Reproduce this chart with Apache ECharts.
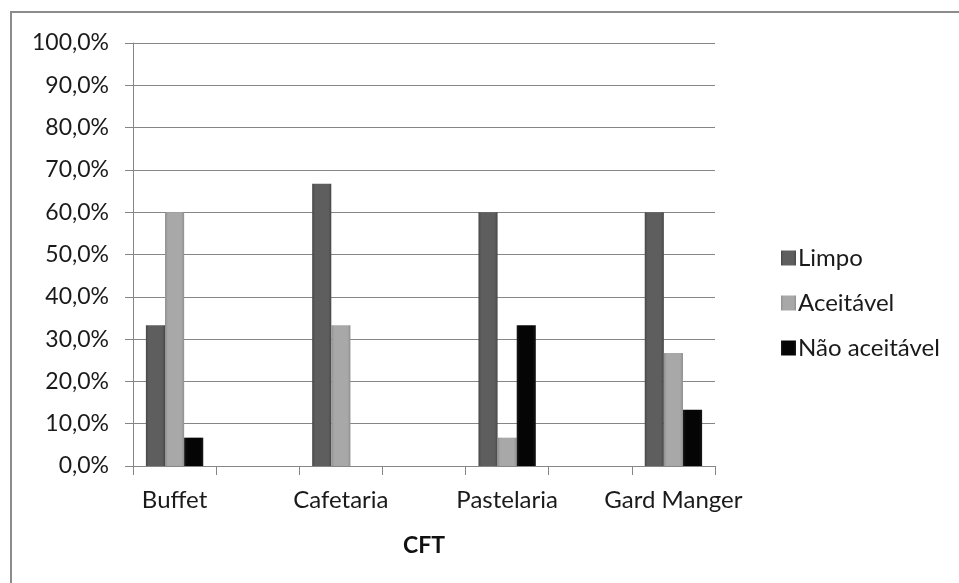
<!DOCTYPE html>
<html>
<head>
<meta charset="utf-8">
<script src="https://cdn.jsdelivr.net/npm/echarts@6/dist/echarts.min.js"></script>
<style>
html,body{margin:0;padding:0;background:#fff;}
#frame{position:absolute;left:10px;top:11px;width:1000px;height:600px;border-left:2px solid #8c8c8c;border-top:2px solid #8c8c8c;}
#chart{position:absolute;left:0;top:0;width:959px;height:583px;}
</style>
</head>
<body>
<div id="frame"></div>
<div id="chart"></div>
<script>
const categories = ['Buffet', '', 'Cafetaria', '', 'Pastelaria', '', 'Gard Manger'];
const limpo = [33.3, null, 66.7, null, 60.0, null, 60.0];
const aceitavel = [60.0, null, 33.3, null, 6.7, null, 26.7];
const naoAceitavel = [6.7, null, 0, null, 33.3, null, 13.3];
const seriesNames = ['Limpo', 'Aceitável', 'Não aceitável'];
const yTicks = [0, 10, 20, 30, 40, 50, 60, 70, 80, 90, 100];

function grad(edge, mid) {
  return new echarts.graphic.LinearGradient(0, 0, 1, 0, [
    {offset: 0, color: edge}, {offset: 0.15, color: mid},
    {offset: 0.85, color: mid}, {offset: 1, color: edge}
  ]);
}
const font = 'Lato, "Open Sans", sans-serif';
const chart = echarts.init(document.getElementById('chart'), null, {renderer: 'canvas'});
chart.setOption({
  animation: false,
  backgroundColor: 'transparent',
  grid: {left: 133, right: 244, top: 43, bottom: 117, containLabel: false},
  legend: {
    orient: 'vertical', left: 776, top: 241, itemGap: 21,
    itemWidth: 15, itemHeight: 15, icon: 'rect',
    textStyle: {fontFamily: font, fontSize: 24, color: '#1a1a1a', padding: [0, 0, 0, -3]},
    data: seriesNames
  },
  xAxis: {
    type: 'category', data: categories,
    name: 'CFT', nameLocation: 'middle', nameGap: 68,
    nameTextStyle: {fontFamily: font, fontSize: 23, fontWeight: 'bold', color: '#111'},
    axisLine: {lineStyle: {color: '#868686', width: 1}},
    axisTick: {show: true, length: 9, lineStyle: {color: '#868686'}, interval: 0},
    axisLabel: {fontFamily: font, fontSize: 24, color: '#1a1a1a', margin: 22, interval: 0},
    splitLine: {show: false}
  },
  yAxis: {
    type: 'value', min: 0, max: 100, interval: 10,
    axisLine: {show: true, lineStyle: {color: '#868686', width: 1}},
    axisTick: {show: true, length: 8, lineStyle: {color: '#868686'}},
    axisLabel: {fontFamily: font, fontSize: 23, color: '#1a1a1a', margin: 24,
      formatter: v => yTicks.includes(v) ? v.toFixed(1).replace('.', ',') + '%' : ''},
    splitLine: {lineStyle: {color: '#868686', width: 1}}
  },
  series: [
    {name: seriesNames[0], type: 'bar', data: limpo, barGap: '0%', barCategoryGap: '31%',
     itemStyle: {color: grad('#474747', '#5e5e5e')}},
    {name: seriesNames[1], type: 'bar', data: aceitavel,
     itemStyle: {color: grad('#8f8f8f', '#a8a8a8')}},
    {name: seriesNames[2], type: 'bar', data: naoAceitavel,
     itemStyle: {color: grad('#1a1a1a', '#050505')}}
  ]
});
</script>
</body>
</html>
